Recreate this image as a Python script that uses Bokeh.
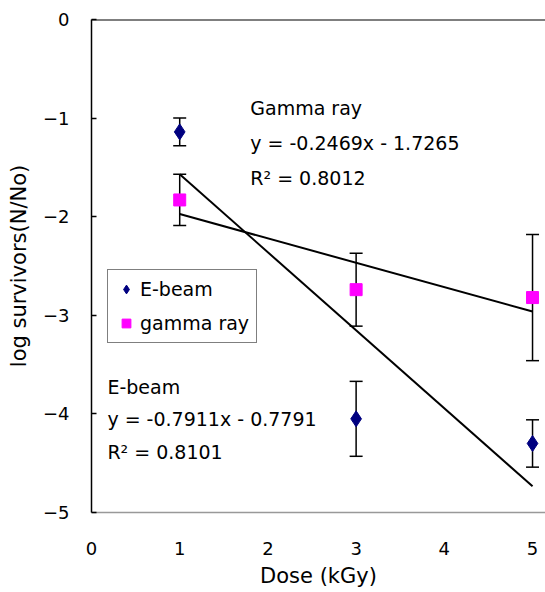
import numpy as np
from bokeh.plotting import figure
from bokeh.models import (ColumnDataSource, Whisker, TeeHead, Span, Label,
                          FixedTicker, Range1d, Legend, LegendItem)
from bokeh.embed import file_html
from bokeh.resources import INLINE

# ---- data ----
dose = [1, 3, 5]
ebeam_mean = [-1.14, -4.05, -4.30]
ebeam_err = [0.14, 0.38, 0.24]
gamma_mean = [-1.83, -2.74, -2.82]
gamma_err = [0.26, 0.37, 0.64]

# trend line coefficients (from the chart's equations)
ebeam_fit = [-0.7911, -0.7791]
gamma_fit = [-0.2469, -1.7265]
fit_x = [1, 5]

x_ticks = [0, 1, 2, 3, 4, 5]
y_ticks = [0, -1, -2, -3, -4, -5]

FONT = "DejaVu Sans"

p = figure(width=545, height=592, output_backend="svg", toolbar_location=None,
           x_range=Range1d(0, 5.147), y_range=Range1d(-5, 0),
           min_border_left=91, min_border_top=19, min_border_bottom=80,
           min_border_right=0)
p.outline_line_color = None
p.xgrid.visible = False
p.ygrid.visible = False
p.background_fill_color = "white"

# axes
p.xaxis.ticker = FixedTicker(ticks=x_ticks)
p.yaxis.ticker = FixedTicker(ticks=y_ticks)
p.xaxis.axis_label = "Dose (kGy)"
p.yaxis.axis_label = "log survivors(N/No)"
for ax in (p.xaxis, p.yaxis):
    ax.major_label_text_font = FONT
    ax.major_label_text_font_size = "18px"
    ax.major_label_text_color = "black"
    ax.axis_label_text_font = FONT
    ax.axis_label_text_font_size = "21px"
    ax.axis_label_text_font_style = "normal"
    ax.axis_label_text_color = "black"
    ax.minor_tick_line_color = None
p.xaxis.axis_line_color = "#999999"
p.xaxis.axis_line_width = 1.5
p.xaxis.major_tick_line_color = None
p.xaxis.major_label_standoff = 23
p.xaxis.axis_label_standoff = 6
p.yaxis.axis_line_color = "black"
p.yaxis.axis_line_width = 1.5
p.yaxis.major_tick_in = 5
p.yaxis.major_tick_out = 0
p.yaxis.major_tick_line_width = 1.5
p.yaxis.major_label_standoff = 22
p.yaxis.axis_label_standoff = 9

p.add_layout(Span(location=0, dimension="width", line_color="black", line_width=2))

# error bars
src_e = ColumnDataSource(dict(x=dose, y=ebeam_mean,
                              lo=[m - e for m, e in zip(ebeam_mean, ebeam_err)],
                              hi=[m + e for m, e in zip(ebeam_mean, ebeam_err)]))
src_g = ColumnDataSource(dict(x=dose, y=gamma_mean,
                              lo=[m - e for m, e in zip(gamma_mean, gamma_err)],
                              hi=[m + e for m, e in zip(gamma_mean, gamma_err)]))
for src in (src_e, src_g):
    w = Whisker(source=src, base="x", lower="lo", upper="hi",
                line_color="black", line_width=1.5,
                upper_head=TeeHead(size=13, line_color="black", line_width=1.5),
                lower_head=TeeHead(size=13, line_color="black", line_width=1.5))
    p.add_layout(w)

# trend lines
fx = np.array(fit_x, dtype=float)
p.line(fx, ebeam_fit[0] * fx + ebeam_fit[1], line_color="black", line_width=2)
p.line(fx, gamma_fit[0] * fx + gamma_fit[1], line_color="black", line_width=2)

# points
r_e = p.scatter("x", "y", source=src_e, marker="diamond", size=16,
                fill_color="#000080", line_color="#000080")
r_g = p.scatter("x", "y", source=src_g, marker="square", size=12,
                fill_color="#FF00FF", line_color="#FF00FF")

legend = Legend(items=[LegendItem(label="E-beam", renderers=[r_e]),
                       LegendItem(label="gamma ray", renderers=[r_g])],
                location=(16, 169), border_line_color="black", border_line_width=1.5,
                background_fill_color="white", background_fill_alpha=1,
                label_text_font=FONT, label_text_font_size="19px",
                label_text_color="black",
                padding=7, spacing=10, glyph_height=24, glyph_width=22,
                label_standoff=3, margin=0)
p.add_layout(legend)

# equation annotations
ann = [
    (1.80, -0.90, "Gamma ray"),
    (1.80, -1.25, "y = -0.2469x - 1.7265"),
    (1.80, -1.61, "R\u00b2 = 0.8012"),
    (0.18, -3.73, "E-beam"),
    (0.18, -4.05, "y = -0.7911x - 0.7791"),
    (0.18, -4.39, "R\u00b2 = 0.8101"),
]
for x, y, t in ann:
    p.add_layout(Label(x=x, y=y, text=t, text_font=FONT, text_font_size="19px",
                       text_baseline="middle", text_align="left", text_color="black"))

open("out.html", "w").write(file_html(p, INLINE))
